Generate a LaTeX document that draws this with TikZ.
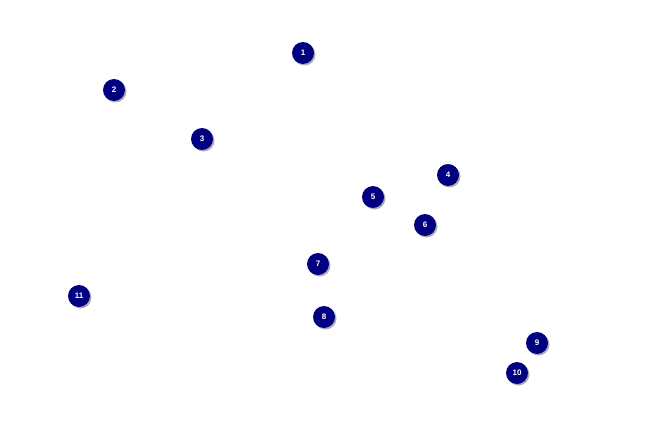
\documentclass[tikz,border=0pt]{standalone}
\usepackage{fontspec}
\setmainfont{Liberation Sans}
\usetikzlibrary{shadows}
\definecolor{navy}{RGB}{0,0,128}

\begin{document}
\begin{tikzpicture}[x=1pt,y=-1pt,
  marker/.style={circle, fill=navy, minimum size=22pt, inner sep=0pt,
    text=white, font=\bfseries\fontsize{8}{8}\selectfont,
    drop shadow={shadow xshift=1.5pt, shadow yshift=-1.5pt, fill=black!40, opacity=0.8}}]
  \useasboundingbox (0,0) rectangle (650,425);

  % numbered markers
  \foreach \n/\x/\y in {1/303/53, 2/114/90, 3/202/139, 4/448/175, 5/373/197,
    6/425/225, 7/318/264, 8/324/317, 9/537/343, 10/517/373, 11/79/296} {
    \node[marker] (m\n) at (\x,\y) {\n};
  }
\end{tikzpicture}
\end{document}
